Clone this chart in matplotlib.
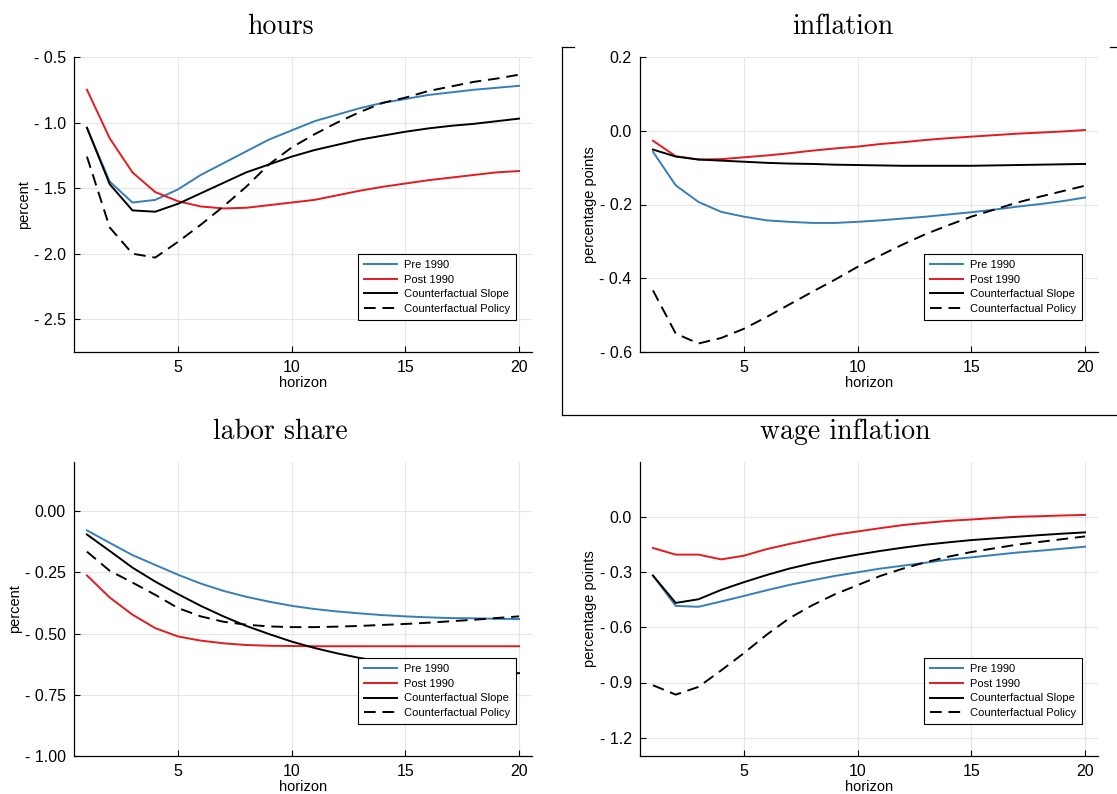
import matplotlib
matplotlib.use("Agg")
import matplotlib.pyplot as plt
from matplotlib.lines import Line2D
from matplotlib.ticker import FixedLocator, FuncFormatter
import numpy as np

horizon = list(range(1, 21))
series_names = ["Pre 1990", "Post 1990", "Counterfactual Slope", "Counterfactual Policy"]

hours_pre = [-1.04, -1.45, -1.61, -1.59, -1.51, -1.40, -1.31, -1.22, -1.13, -1.06,
             -0.99, -0.94, -0.89, -0.85, -0.82, -0.79, -0.77, -0.75, -0.735, -0.72]
hours_post = [-0.75, -1.12, -1.38, -1.53, -1.60, -1.64, -1.655, -1.65, -1.63, -1.61,
              -1.59, -1.555, -1.52, -1.49, -1.465, -1.44, -1.42, -1.40, -1.38, -1.37]
hours_slope = [-1.04, -1.47, -1.67, -1.68, -1.62, -1.54, -1.46, -1.38, -1.32, -1.26,
               -1.21, -1.17, -1.13, -1.10, -1.07, -1.045, -1.025, -1.01, -0.99, -0.97]
hours_policy = [-1.26, -1.80, -2.00, -2.03, -1.91, -1.78, -1.64, -1.49, -1.32, -1.19,
                -1.09, -1.00, -0.92, -0.85, -0.81, -0.76, -0.725, -0.69, -0.665, -0.635]

infl_pre = [-0.057, -0.148, -0.193, -0.22, -0.233, -0.243, -0.247, -0.25, -0.25, -0.247,
            -0.243, -0.238, -0.233, -0.227, -0.221, -0.214, -0.206, -0.199, -0.191, -0.181]
infl_post = [-0.027, -0.069, -0.078, -0.077, -0.072, -0.067, -0.061, -0.054, -0.048, -0.043,
             -0.036, -0.031, -0.025, -0.02, -0.016, -0.012, -0.008, -0.005, -0.002, 0.002]
infl_slope = [-0.051, -0.07, -0.078, -0.081, -0.084, -0.087, -0.089, -0.09, -0.092, -0.093,
              -0.094, -0.095, -0.095, -0.095, -0.095, -0.094, -0.093, -0.092, -0.091, -0.09]
infl_policy = [-0.433, -0.55, -0.577, -0.562, -0.537, -0.505, -0.471, -0.437, -0.404, -0.369,
               -0.338, -0.308, -0.28, -0.256, -0.233, -0.214, -0.195, -0.179, -0.164, -0.149]

labor_pre = [-0.079, -0.13, -0.18, -0.22, -0.26, -0.296, -0.326, -0.35, -0.37, -0.387,
             -0.40, -0.41, -0.418, -0.425, -0.43, -0.434, -0.437, -0.438, -0.44, -0.441]
labor_post = [-0.263, -0.353, -0.423, -0.478, -0.512, -0.529, -0.54, -0.547, -0.55, -0.551,
              -0.552, -0.552, -0.552, -0.552, -0.552, -0.552, -0.552, -0.552, -0.552, -0.552]
labor_slope = [-0.096, -0.163, -0.231, -0.288, -0.339, -0.387, -0.43, -0.469, -0.502, -0.533,
               -0.559, -0.581, -0.60, -0.615, -0.627, -0.638, -0.646, -0.653, -0.658, -0.662]
labor_policy = [-0.166, -0.244, -0.292, -0.342, -0.396, -0.43, -0.452, -0.464, -0.471, -0.474,
                -0.474, -0.472, -0.469, -0.465, -0.461, -0.456, -0.45, -0.444, -0.437, -0.43]

wage_pre = [-0.318, -0.483, -0.488, -0.459, -0.429, -0.398, -0.369, -0.344, -0.32, -0.30,
            -0.28, -0.264, -0.248, -0.231, -0.219, -0.206, -0.193, -0.183, -0.172, -0.161]
wage_post = [-0.168, -0.204, -0.204, -0.23, -0.21, -0.174, -0.146, -0.121, -0.096, -0.078,
             -0.06, -0.043, -0.031, -0.02, -0.013, -0.005, 0.002, 0.005, 0.009, 0.012]
wage_slope = [-0.318, -0.467, -0.447, -0.396, -0.354, -0.315, -0.28, -0.251, -0.226, -0.204,
              -0.184, -0.166, -0.15, -0.137, -0.125, -0.116, -0.107, -0.098, -0.09, -0.083]
wage_policy = [-0.915, -0.966, -0.924, -0.834, -0.74, -0.64, -0.55, -0.48, -0.42, -0.37,
               -0.32, -0.28, -0.245, -0.215, -0.19, -0.17, -0.15, -0.135, -0.12, -0.105]

titles = ["hours", "inflation", "labor share", "wage inflation"]
ylabels = ["percent", "percentage points", "percent", "percentage points"]

W, H = 1117, 794
fig = plt.figure(figsize=(W / 100, H / 100), dpi=100)

colors = ["#377eb8", "#e41a1c", "black", "black"]
styles = ["-", "-", "-", (0, (6, 3.5))]


def minus_fmt(dec):
    def f(v, pos):
        s = f"{abs(v):.{dec}f}"
        return "- " + s if v < -1e-9 else s
    return FuncFormatter(f)


def make_panel(px, data, ylim, yticks, dec, title, ylabel, label_x, title_xy):
    l, r, t, b = px
    ax = fig.add_axes([l / W, 1 - b / H, (r - l) / W, (b - t) / H])
    for vals, c, ls, name in zip(data, colors, styles, series_names):
        ax.plot(horizon, vals, color=c, linestyle=ls, lw=1.4, label=name)
    ax.set_xlim(0.43, 20.57)
    ax.set_ylim(*ylim)
    ax.xaxis.set_major_locator(FixedLocator([5, 10, 15, 20]))
    ax.yaxis.set_major_locator(FixedLocator(yticks))
    ax.yaxis.set_major_formatter(minus_fmt(dec))
    ax.grid(True, color="#e6e6e6", lw=0.8)
    for s in ["top", "right"]:
        ax.spines[s].set_visible(False)
    for s in ["left", "bottom"]:
        ax.spines[s].set_linewidth(0.9)
    ax.tick_params(direction="in", length=4, width=0.8, labelsize=11.5, pad=6)
    for lab in ax.get_xticklabels() + ax.get_yticklabels():
        lab.set_fontfamily("Liberation Sans")
    ax.set_xlabel("horizon", fontsize=10.5, fontfamily="Liberation Sans")
    ax.set_ylabel(ylabel, fontsize=10.5, fontfamily="Liberation Sans")
    ax.xaxis.set_label_coords(0.5, -24 / (b - t))
    # label_x is the right edge of the rotated y label, in pixels
    ax.yaxis.set_label_coords((label_x - l) / (r - l), 0.5)
    leg = ax.legend(loc="lower right", bbox_to_anchor=(0.965, 0.108), borderaxespad=0,
                    prop={"family": "Liberation Sans", "size": 8},
                    fancybox=False, edgecolor="black", framealpha=1,
                    handlelength=3.0, labelspacing=0.42, borderpad=0.55,
                    handletextpad=0.6)
    leg.get_frame().set_linewidth(0.8)
    fig.text(title_xy[0] / W, 1 - title_xy[1] / H, title, ha="center", va="center",
             fontsize=20, fontfamily="cmr10")
    return ax


make_panel((74, 532, 57, 352), [hours_pre, hours_post, hours_slope, hours_policy],
           (-2.75, -0.5), [-2.5, -2.0, -1.5, -1.0, -0.5], 1,
           titles[0], ylabels[0], 31, (280, 27))
make_panel((640, 1098, 57, 352), [infl_pre, infl_post, infl_slope, infl_policy],
           (-0.6, 0.2), [-0.6, -0.4, -0.2, 0.0, 0.2], 1,
           titles[1], ylabels[1], 597, (843, 27))
make_panel((74, 532, 462, 756), [labor_pre, labor_post, labor_slope, labor_policy],
           (-1.0, 0.2), [-1.0, -0.75, -0.5, -0.25, 0.0], 2,
           titles[2], ylabels[2], 22, (280, 432))
make_panel((640, 1098, 462, 756), [wage_pre, wage_post, wage_slope, wage_policy],
           (-1.3, 0.3), [-1.2, -0.9, -0.6, -0.3, 0.0], 1,
           titles[3], ylabels[3], 597, (845, 432))

# partial frame around the inflation panel
frame = [((562, 562), (47, 415)), ((562, 1117), (415, 415)),
         ((562, 574), (47, 47)), ((1110, 1117), (47, 47))]
for xs, ys in frame:
    fig.add_artist(Line2D([x / W for x in xs], [1 - y / H for y in ys],
                          color="black", lw=0.9))

fig.savefig("out.png", dpi=100)
